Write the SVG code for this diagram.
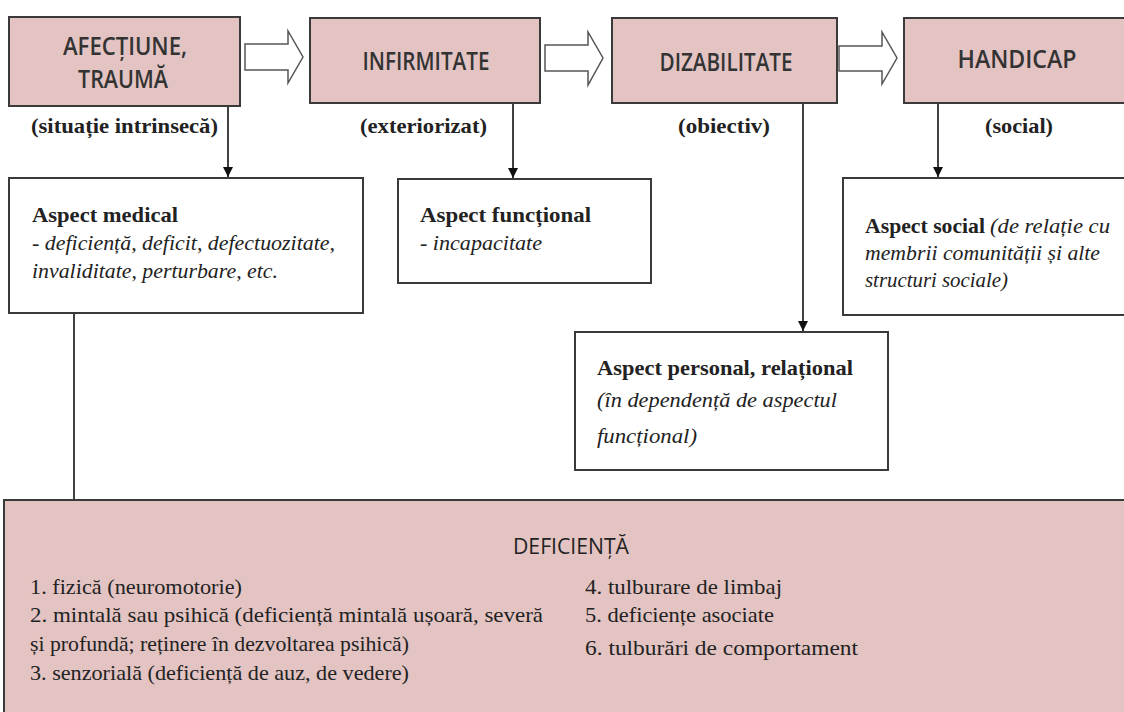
<svg xmlns="http://www.w3.org/2000/svg" width="1124" height="712" viewBox="0 0 1124 712">
<style>
.pink{fill:#e3c4c3;stroke:#3a3a3a;stroke-width:2}
.white{fill:#ffffff;stroke:#3a3a3a;stroke-width:2}
.title{font-family:"Open Sans","Liberation Sans",sans-serif;font-weight:600;font-size:25px;fill:#333;text-anchor:middle}
.sub{font-family:"Liberation Serif",serif;font-weight:bold;font-size:22px;fill:#222}
.b{font-family:"Liberation Serif",serif;font-weight:bold;font-size:22px;fill:#222}
.i{font-family:"Liberation Serif",serif;font-style:italic;font-size:22px;fill:#222}
.r{font-family:"Liberation Serif",serif;font-size:22px;fill:#222}
.blk{fill:#fff;stroke:#555;stroke-width:1.5}
.ln{stroke:#111;stroke-width:1.6;fill:none}
</style>
<defs>
<marker id="ah" viewBox="0 0 10 10" refX="10" refY="5" markerWidth="10" markerHeight="12" markerUnits="userSpaceOnUse" orient="auto">
<path d="M0,0 L10,5 L0,10 z" fill="#111"/>
</marker>
</defs>
<rect width="1124" height="712" fill="#fff"/>

<g id="arrows-block">
<path class="blk" d="M245,44 H288 V31 L303,57 L288,83 V70 H245 Z"/>
<path class="blk" d="M545,45 H588 V32 L603,58 L588,85 V71 H545 Z"/>
<path class="blk" d="M839,46 H882 V32 L897,58 L882,84 V71 H839 Z"/>
</g>

<g id="connectors">
<line class="ln" x1="228" y1="106" x2="228" y2="177" marker-end="url(#ah)"/>
<line class="ln" x1="513" y1="103" x2="513" y2="178" marker-end="url(#ah)"/>
<line class="ln" x1="803" y1="103" x2="803" y2="331" marker-end="url(#ah)"/>
<line class="ln" x1="938" y1="103" x2="938" y2="177" marker-end="url(#ah)"/>
<line class="ln" x1="74" y1="313" x2="74" y2="500"/>
</g>

<g id="n-afectiune">
<rect class="pink" x="9" y="17" width="231" height="89"/>
<text class="title" x="125" y="55" textLength="124" lengthAdjust="spacingAndGlyphs">AFECȚIUNE,</text>
<text class="title" x="123" y="88" textLength="90" lengthAdjust="spacingAndGlyphs">TRAUMĂ</text>
<text class="sub" x="31" y="133" textLength="187" lengthAdjust="spacingAndGlyphs">(situație intrinsecă)</text>
</g>

<g id="n-infirmitate">
<rect class="pink" x="310" y="18" width="230" height="85"/>
<text class="title" x="426" y="70" textLength="127" lengthAdjust="spacingAndGlyphs">INFIRMITATE</text>
<text class="sub" x="360" y="133" textLength="127" lengthAdjust="spacingAndGlyphs">(exteriorizat)</text>
</g>

<g id="n-dizabilitate">
<rect class="pink" x="612" y="18" width="225" height="85"/>
<text class="title" x="726" y="71" textLength="133" lengthAdjust="spacingAndGlyphs">DIZABILITATE</text>
<text class="sub" x="678" y="133" textLength="92" lengthAdjust="spacingAndGlyphs">(obiectiv)</text>
</g>

<g id="n-handicap">
<rect class="pink" x="904" y="18" width="230" height="85"/>
<text class="title" x="1017" y="68" textLength="119" lengthAdjust="spacingAndGlyphs">HANDICAP</text>
<text class="sub" x="985" y="133" textLength="68" lengthAdjust="spacingAndGlyphs">(social)</text>
</g>

<g id="n-medical">
<rect class="white" x="9" y="178" width="354" height="135"/>
<text class="b" x="32" y="222" textLength="146" lengthAdjust="spacingAndGlyphs">Aspect medical</text>
<text class="i" x="32" y="250" textLength="303" lengthAdjust="spacingAndGlyphs">- deficiență, deficit, defectuozitate,</text>
<text class="i" x="32" y="278" textLength="246" lengthAdjust="spacingAndGlyphs">invaliditate, perturbare, etc.</text>
</g>

<g id="n-functional">
<rect class="white" x="398" y="179" width="253" height="104"/>
<text class="b" x="420" y="222" textLength="171" lengthAdjust="spacingAndGlyphs">Aspect funcțional</text>
<text class="i" x="420" y="250" textLength="122" lengthAdjust="spacingAndGlyphs">- incapacitate</text>
</g>

<g id="n-social">
<rect class="white" x="843" y="178" width="290" height="137"/>
<text class="b" x="865" y="233" textLength="120" lengthAdjust="spacingAndGlyphs">Aspect social</text>
<text class="i" x="990" y="233" textLength="120" lengthAdjust="spacingAndGlyphs">(de relație cu</text>
<text class="i" x="865" y="260" textLength="235" lengthAdjust="spacingAndGlyphs">membrii comunității și alte</text>
<text class="i" x="865" y="287" textLength="143" lengthAdjust="spacingAndGlyphs">structuri sociale)</text>
</g>

<g id="n-personal">
<rect class="white" x="575" y="332" width="313" height="138"/>
<text class="b" x="597" y="375" textLength="256" lengthAdjust="spacingAndGlyphs">Aspect personal, relațional</text>
<text class="i" x="597" y="407" textLength="240" lengthAdjust="spacingAndGlyphs">(în dependență de aspectul</text>
<text class="i" x="597" y="443" textLength="100" lengthAdjust="spacingAndGlyphs">funcțional)</text>
</g>

<g id="n-deficienta">
<rect class="pink" x="4" y="500" width="1130" height="230"/>
<text x="571" y="554" style="font-family:'Open Sans','Liberation Sans',sans-serif;font-size:21px;fill:#222;text-anchor:middle" textLength="116" lengthAdjust="spacingAndGlyphs">DEFICIENȚĂ</text>
<text class="r" x="30" y="594" textLength="212" lengthAdjust="spacingAndGlyphs">1. fizică (neuromotorie)</text>
<text class="r" x="30" y="622" textLength="513" lengthAdjust="spacingAndGlyphs">2. mintală sau psihică (deficiență mintală ușoară, severă</text>
<text class="r" x="30" y="651" textLength="379" lengthAdjust="spacingAndGlyphs">și profundă; reținere în dezvoltarea psihică)</text>
<text class="r" x="30" y="680" textLength="379" lengthAdjust="spacingAndGlyphs">3. senzorială (deficiență de auz, de vedere)</text>
<text class="r" x="585" y="594" textLength="197" lengthAdjust="spacingAndGlyphs">4. tulburare de limbaj</text>
<text class="r" x="585" y="622" textLength="189" lengthAdjust="spacingAndGlyphs">5. deficiențe asociate</text>
<text class="r" x="585" y="655" textLength="273" lengthAdjust="spacingAndGlyphs">6. tulburări de comportament</text>
</g>
</svg>
